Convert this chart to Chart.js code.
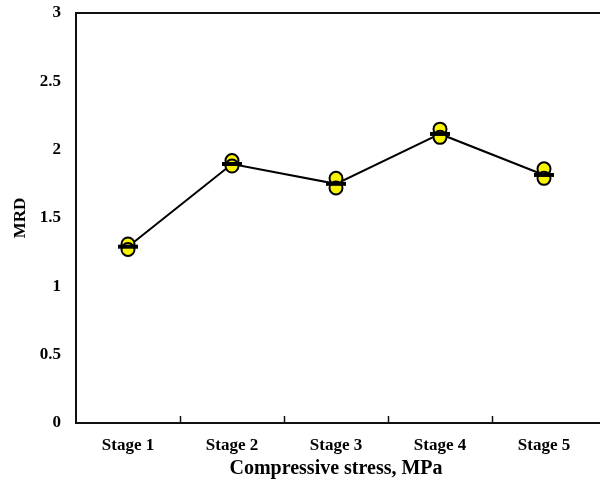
<!DOCTYPE html>
<html>
<head>
<meta charset="utf-8">
<script src="https://cdn.jsdelivr.net/npm/chart.js@4"></script>
<style>
  html, body { margin: 0; padding: 0; background: #ffffff; }
  #wrap { width: 600px; height: 490px; }
</style>
</head>
<body>
<div id="wrap"><canvas id="c" width="600" height="490"></canvas></div>
<script>
// Stages of loading
const stages = ['Stage 1', 'Stage 2', 'Stage 3', 'Stage 4', 'Stage 5'];
// Mean MRD per stage
const meanMRD = [1.29, 1.895, 1.75, 2.115, 1.815];
// Individual replicate measurements
const replicateA = [1.31, 1.92, 1.79, 2.15, 1.86];
const replicateB = [1.27, 1.88, 1.72, 2.09, 1.79];
// Y axis range
const yMin = 0, yMax = 3, yStep = 0.5;

const serif = '"Liberation Serif", "Times New Roman", serif';

// Inward tick marks between categories plus a top frame line
const framePlugin = {
  id: 'frame',
  afterDraw(chart) {
    const { ctx, chartArea } = chart;
    const x = chart.scales.x;
    ctx.save();
    ctx.strokeStyle = '#111';
    ctx.lineWidth = 2;
    ctx.beginPath();
    ctx.moveTo(chartArea.left - 1, chartArea.top);
    ctx.lineTo(chart.width, chartArea.top);
    ctx.stroke();
    ctx.beginPath();
    ctx.moveTo(chartArea.right, chartArea.bottom);
    ctx.lineTo(chart.width, chartArea.bottom);
    ctx.stroke();
    ctx.lineWidth = 1.5;
    for (let i = 1; i < stages.length; i++) {
      const px = Math.round((x.getPixelForValue(i - 1) + x.getPixelForValue(i)) / 2) + 0.5;
      ctx.beginPath();
      ctx.moveTo(px, chartArea.bottom);
      ctx.lineTo(px, chartArea.bottom - 7);
      ctx.stroke();
    }
    ctx.restore();
  }
};

new Chart(document.getElementById('c'), {
  type: 'line',
  data: {
    labels: stages,
    datasets: [
      {
        label: 'Mean',
        data: meanMRD,
        borderColor: '#000',
        borderWidth: 2,
        pointRadius: 0,
        order: 3
      },
      {
        label: 'Replicate A',
        data: replicateA,
        showLine: false,
        pointStyle: 'circle',
        pointRadius: 6.5,
        pointBackgroundColor: '#f8f400',
        pointBorderColor: '#000',
        pointBorderWidth: 2,
        order: 2
      },
      {
        label: 'Replicate B',
        data: replicateB,
        showLine: false,
        pointStyle: 'circle',
        pointRadius: 6.5,
        pointBackgroundColor: '#f8f400',
        pointBorderColor: '#000',
        pointBorderWidth: 2,
        order: 1
      },
      {
        label: 'Mean marker',
        data: meanMRD,
        showLine: false,
        pointStyle: 'line',
        pointRadius: 10,
        pointBorderColor: '#000',
        pointBorderWidth: 4,
        order: 0
      }
    ]
  },
  options: {
    responsive: false,
    animation: false,
    events: [],
    layout: { autoPadding: false, padding: { top: 13, right: 4, left: 0, bottom: 0 } },
    plugins: { legend: { display: false }, tooltip: { enabled: false } },
    scales: {
      x: {
        offset: true,
        grid: { display: false, offset: true },
        border: { display: true, color: '#111', width: 2 },
        ticks: {
          color: '#000',
          padding: 4,
          font: { family: serif, size: 17, weight: 'bold' }
        },
        title: {
          display: true,
          text: 'Compressive stress, MPa',
          color: '#000',
          padding: { top: 0, bottom: 9 },
          font: { family: serif, size: 20, weight: 'bold' }
        },
        afterFit(scale) {
          scale.height = 67;
          scale.paddingLeft = 0;
          scale.paddingRight = 0;
        }
      },
      y: {
        min: yMin,
        max: yMax,
        grid: { display: false },
        border: { display: true, color: '#111', width: 2 },
        ticks: {
          stepSize: yStep,
          color: '#000',
          padding: 7,
          font: { family: serif, size: 17, weight: 'bold' },
          callback: (v) => String(Number(v))
        },
        title: {
          display: true,
          text: 'MRD',
          color: '#000',
          padding: { top: 10, bottom: 0 },
          font: { family: serif, size: 17, weight: 'bold' }
        },
        afterFit(scale) {
          scale.width = 76;
          scale.paddingTop = 0;
          scale.paddingBottom = 0;
        }
      }
    }
  },
  plugins: [framePlugin]
});
</script>
</body>
</html>
